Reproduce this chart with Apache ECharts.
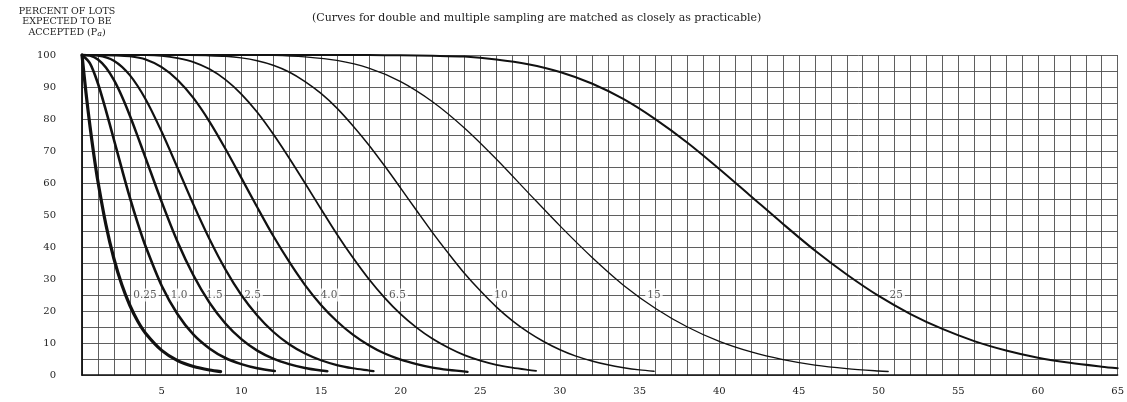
<!DOCTYPE html>
<html>
<head>
<meta charset="utf-8">
<script src="https://cdn.jsdelivr.net/npm/echarts@6/dist/echarts.min.js"></script>
<style>html,body{margin:0;padding:0;background:#fff}#c{width:1127px;height:402px}</style>
</head>
<body>
<div id="c"></div>
<script>
// ---- data ----
const curveNames = ['0.25', '1.0', '1.5', '2.5', '4.0', '6.5', '10', '15', '25'];

const p025 = [0, 0.25, 0.5, 0.75, 1, 1.5, 2, 2.5, 3, 3.5, 4, 5, 6, 7, 8, 8.7];
const pa025 = [100, 88.2, 77.8, 68.6, 60.5, 47.0, 36.4, 28.2, 21.8, 16.8, 13.0, 7.7, 4.5, 2.65, 1.55, 1.06];

const p10 = [0, 0.5, 1, 1.5, 2, 2.5, 3, 3.5, 4, 5, 6, 7, 8, 9, 10, 11, 12.1];
const pa10 = [100, 97.4, 91.1, 82.7, 73.6, 64.4, 55.5, 47.4, 40.1, 27.9, 19.0, 12.6, 8.3, 5.3, 3.4, 2.1, 1.25];

const p15 = [0, 0.5, 1, 1.5, 2, 2.5, 3, 3.5, 4, 5, 6, 7, 8, 9, 10, 11, 12, 13, 14, 15, 15.4];
const pa15 = [100, 99.8, 98.6, 96.1, 92.2, 87.1, 81.1, 74.5, 67.7, 54.1, 41.6, 31.1, 22.6, 16.1, 11.2, 7.6, 5.1, 3.4, 2.2, 1.4, 1.2];

const p25 = [0, 1, 2, 3, 4, 5, 6, 7, 8, 9, 10, 11, 12, 13, 14, 15, 16, 17, 18, 18.3];
const pa25 = [100, 99.8, 98.2, 93.7, 86.1, 76.0, 64.7, 53.2, 42.5, 33.0, 25.0, 18.6, 13.5, 9.6, 6.7, 4.6, 3.1, 2.1, 1.4, 1.2];

const p40 = [0, 1, 2, 3, 4, 5, 6, 7, 8, 9, 10, 11, 12, 13, 14, 15, 16, 17, 18, 19, 20, 21, 22, 23, 24.2];
const pa40 = [100, 100, 99.9, 99.6, 98.6, 96.2, 92.2, 86.5, 79.2, 70.7, 61.6, 52.4, 43.5, 35.4, 28.1, 21.9, 16.8, 12.6, 9.3, 6.7, 4.8, 3.4, 2.3, 1.6, 1.0];

const p65 = [0, 2, 3, 4, 5, 6, 7, 8, 9, 10, 11, 12, 13, 14, 15, 16, 17, 18, 19, 20, 21, 22, 23, 24, 25, 26, 27, 28, 28.5];
const pa65 = [100, 100, 100, 99.97, 99.7, 99.0, 97.8, 95.6, 92.3, 87.8, 82.1, 75.3, 67.8, 59.9, 51.9, 44.0, 36.7, 30.0, 24.1, 19.0, 14.8, 11.3, 8.5, 6.2, 4.5, 3.2, 2.3, 1.6, 1.3];

const p100 = [0, 4, 6, 8, 9, 10, 11, 12, 13, 14, 15, 16, 17, 18, 19, 20, 21, 22, 23, 24, 25, 26, 27, 28, 29, 30, 31, 32, 33, 34, 35, 35.9];
const pa100 = [100, 100, 100, 99.8, 99.6, 99.1, 98.2, 96.8, 94.7, 91.7, 88.0, 83.4, 77.9, 71.9, 65.3, 58.4, 51.4, 44.5, 38.0, 31.8, 26.3, 21.3, 17.0, 13.4, 10.4, 7.9, 5.9, 4.4, 3.2, 2.3, 1.6, 1.15];

const p150 = [0, 8, 10, 12, 14, 16, 18, 20, 22, 24, 26, 28, 30, 32, 34, 36, 38, 40, 42, 44, 46, 48, 50, 50.6];
const pa150 = [100, 100, 100, 99.9, 99.4, 98.3, 95.9, 91.7, 85.4, 77.2, 67.5, 57.0, 46.6, 36.8, 28.0, 20.8, 15.0, 10.5, 7.2, 4.8, 3.1, 2.0, 1.25, 1.1];

const p250 = [0, 14, 16, 18, 20, 22, 24, 26, 28, 30, 32, 34, 36, 38, 40, 42, 44, 46, 48, 50, 52, 54, 56, 58, 60, 62, 64, 65];
const pa250 = [100, 100, 100, 99.98, 99.9, 99.76, 99.5, 98.6, 97.1, 94.7, 91.1, 86.2, 79.9, 72.6, 64.4, 55.8, 47.2, 38.9, 31.4, 24.7, 19.05, 14.4, 10.6, 7.66, 5.4, 3.8, 2.6, 2.1];

// curve label anchors (x in data units, on the 25 % line)
const labelX = [3.95, 6.1, 8.3, 10.7, 15.5, 19.8, 26.3, 35.9, 51.1];
const labelY = 25;

// tick labels
const xLabelValues = [5, 10, 15, 20, 25, 30, 35, 40, 45, 50, 55, 60, 65];
const yLabelValues = [0, 10, 20, 30, 40, 50, 60, 70, 80, 90, 100];

const titleText = '(Curves for double and multiple sampling are matched as closely as practicable)';
const yTitleLines = ['PERCENT OF LOTS', 'EXPECTED TO BE', 'ACCEPTED (P{s|a})'];

// ---- chart ----
const serif = "'DejaVu Serif', 'Liberation Serif', serif";
const xs = [p025, p10, p15, p25, p40, p65, p100, p150, p250];
const ys = [pa025, pa10, pa15, pa25, pa40, pa65, pa100, pa150, pa250];
const widths = [3.2, 2.6, 2.5, 2.2, 2.2, 1.8, 1.5, 1.3, 2.0];

const series = curveNames.map((name, k) => ({
  type: 'line',
  name: name,
  data: xs[k].map((v, i) => [v, ys[k][i]]),
  showSymbol: false,
  smooth: 0.3,
  clip: false,
  z: 3,
  silent: true,
  lineStyle: { color: '#111', width: widths[k], join: 'round', cap: 'round' }
}));

series.push({
  type: 'scatter',
  data: labelX.map((x, i) => [x, labelY, curveNames[i]]),
  symbolSize: 0,
  z: 1,
  silent: true,
  label: {
    show: true,
    position: 'inside',
    formatter: p => p.data[2],
    fontFamily: serif,
    fontSize: 10.5,
    color: '#333',
    backgroundColor: '#fff',
    padding: [1, 2]
  }
});

const gridLine = { color: '#4d4d4d', width: 0.9 };

const option = {
  animation: false,
  backgroundColor: '#fff',
  title: {
    text: titleText,
    left: 307,
    top: 8,
    textStyle: { fontFamily: serif, fontSize: 11, fontWeight: 'normal', color: '#222' }
  },
  graphic: [{
    type: 'text',
    x: 67,
    y: 6,
    style: {
      text: yTitleLines.join('\n'),
      align: 'center',
      verticalAlign: 'top',
      fontFamily: serif,
      fontSize: 9.5,
      lineHeight: 10.5,
      fill: '#222',
      rich: {
        s: { fontFamily: serif, fontSize: 8, fontStyle: 'italic', verticalAlign: 'bottom', lineHeight: 10.5, fill: '#222' }
      }
    }
  }],
  grid: { left: 82, right: 9, top: 55, bottom: 27, containLabel: false },
  xAxis: {
    type: 'value',
    min: 0, max: 65, interval: 5,
    axisLine: { show: true, lineStyle: { color: '#111', width: 1.5 } },
    axisTick: { show: false },
    minorTick: { show: false, splitNumber: 5 },
    axisLabel: {
      margin: 11,
      fontFamily: serif, fontSize: 10, color: '#222',
      formatter: v => (xLabelValues.indexOf(v) >= 0 ? String(v) : '')
    },
    splitLine: { show: true, lineStyle: gridLine },
    minorSplitLine: { show: true, lineStyle: gridLine }
  },
  yAxis: {
    type: 'value',
    min: 0, max: 100, interval: 10,
    axisLine: { show: true, lineStyle: { color: '#111', width: 1.8 } },
    axisTick: { show: false },
    minorTick: { show: false, splitNumber: 2 },
    axisLabel: {
      margin: 26,
      fontFamily: serif, fontSize: 10, color: '#222',
      formatter: v => (yLabelValues.indexOf(v) >= 0 ? String(v) : '')
    },
    splitLine: { show: true, lineStyle: gridLine },
    minorSplitLine: { show: true, lineStyle: gridLine }
  },
  series: series
};

const chart = echarts.init(document.getElementById('c'));
chart.setOption(option);
</script>
</body>
</html>
